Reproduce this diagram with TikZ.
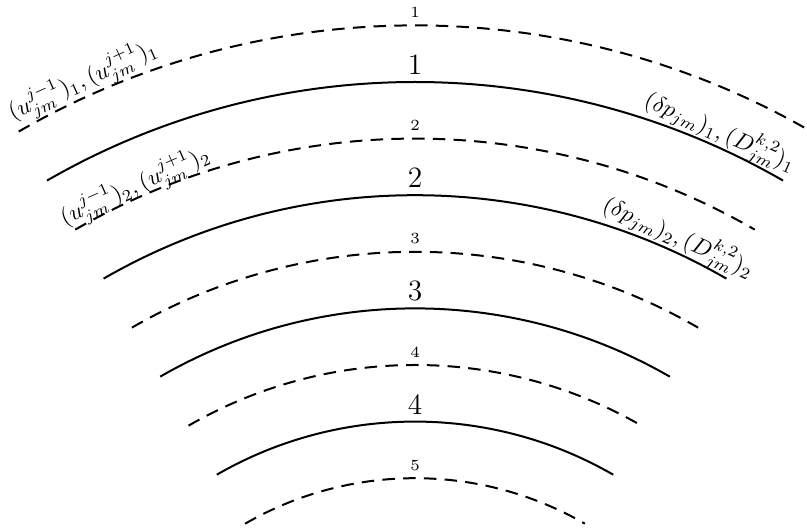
\documentclass[tikz,border=0pt]{standalone}
\usetikzlibrary{calc}
\begin{document}
\begin{tikzpicture}[x=0.4pt,y=0.4pt,
  solidarc/.style={line width=0.8pt},
  dasharc/.style={line width=0.8pt,dash pattern=on 5pt off 3.3pt},
  smallnum/.style={font=\fontsize{6.2}{7}\selectfont,inner sep=0pt},
  bignum/.style={font=\fontsize{11.8}{13}\selectfont,inner sep=0pt},
  arclabel/.style={inner sep=0pt,scale=0.93}]
\useasboundingbox (0,0) rectangle (807,530);
\coordinate (c) at (415,-288);
\foreach \r/\n in {792.6/1,679.4/2,566.2/3,453/4,339.8/5}{
  \draw[dasharc] (c) ++(120:\r) arc[start angle=120,end angle=60,radius=\r];
  \node[smallnum] (d\n) at ($(c)+(0,\r+13)$) {\n};
}
\foreach \r/\n in {736/1,622.8/2,509.6/3,396.4/4}{
  \draw[solidarc] (c) ++(120:\r) arc[start angle=120,end angle=60,radius=\r];
  \node[bignum] (s\n) at ($(c)+(0,\r+17.5)$) {\n};
}
\node[arclabel,rotate=24.25] (ul1) at ($(c)+(114.25:808)$) {$(u^{j-1}_{jm})_1,(u^{j+1}_{jm})_1$};
\node[arclabel,rotate=23.9] (ul2) at ($(c)+(113.9:690)$) {$(u^{j-1}_{jm})_2,(u^{j+1}_{jm})_2$};
\node[arclabel,rotate=-24] (pr1) at ($(c)+(66:750)$) {$(\delta p_{jm})_1,(D^{k,2}_{jm})_1$};
\node[arclabel,rotate=-24.4] (pr2) at ($(c)+(65.6:637)$) {$(\delta p_{jm})_2,(D^{k,2}_{jm})_2$};
\end{tikzpicture}
\end{document}
